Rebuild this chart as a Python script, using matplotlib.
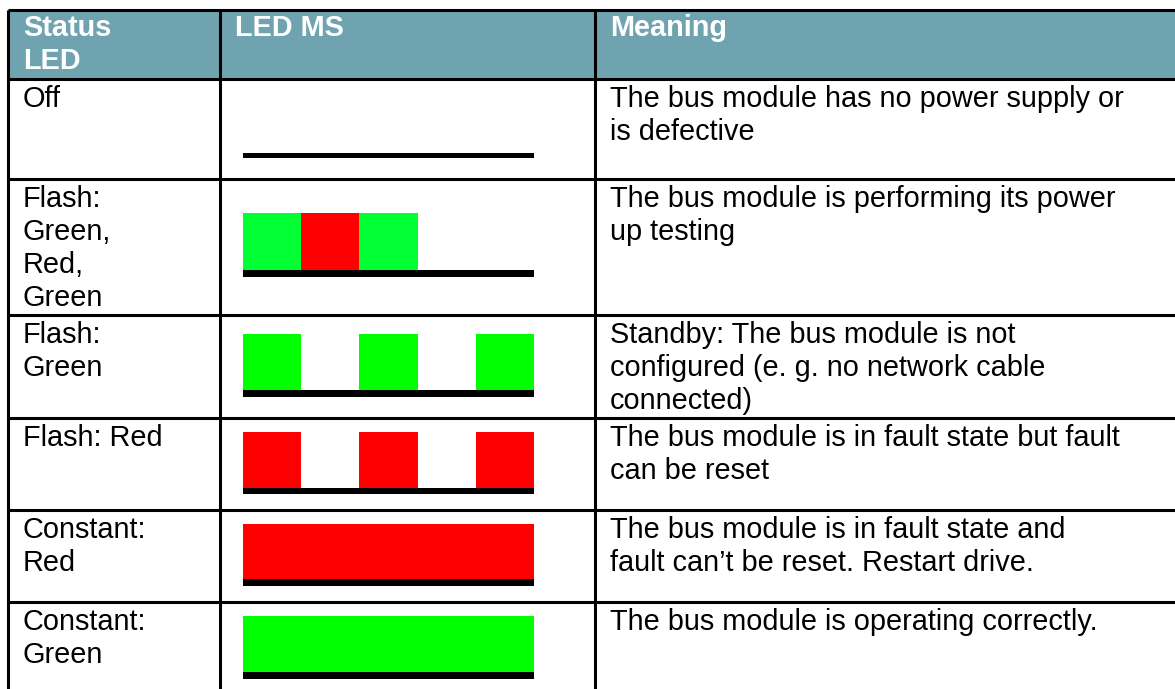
import matplotlib
matplotlib.use("Agg")
import matplotlib.pyplot as plt

# ---------------- data ----------------
headers = ["Status\nLED", "LED MS", "Meaning"]
status = ["Off", "Flash:\nGreen,\nRed,\nGreen", "Flash:\nGreen", "Flash: Red",
          "Constant:\nRed", "Constant:\nGreen"]
# LED pattern: 5 time slots, G = green, R = red, None = dark
led_patterns = [
    [None, None, None, None, None],
    ["G2", "R", "G2", None, None],
    ["G", None, "G", None, "G"],
    ["R", None, "R", None, "R"],
    ["R", "R", "R", "R", "R"],
    ["G", "G", "G", "G", "G"],
]
meaning = [
    "The bus module has no power supply or\nis defective",
    "The bus module is performing its power\nup testing",
    "Standby: The bus module is not\nconfigured (e. g. no network cable\nconnected)",
    "The bus module is in fault state but fault\ncan be reset",
    "The bus module is in fault state and\nfault can\u2019t be reset. Restart drive.",
    "The bus module is operating correctly.",
]

# ---------------- style / layout ----------------
W, H = 1175, 689
colors = {"G": "#00ff00", "G2": "#00ff33", "R": "#ff0000"}
header_color = "#70a3b0"
font = ["Liberation Sans", "DejaVu Sans"]
fs = 20.8
line_h = 33
lw = 2.2

x_left, x_c1, x_c2, x_right = 8, 220, 595, 1180
y_top = 10
row_edges = [79, 179, 315, 418, 510, 602, 700]
led_x0, led_x1 = 243, 534
led_top = [None, 213, 334, 432, 524, 616]
led_h = [0, 57, 56, 56, 55, 56]
bar_h = [5, 7, 7, 6, 7, 7]
line_y0 = [153, 270, 390, 488, 579, 672]

fig = plt.figure(figsize=(W / 100, H / 100), dpi=100)
ax = fig.add_axes([0, 0, 1, 1])
ax.set_xlim(0, W)
ax.set_ylim(H, 0)
ax.axis("off")

# header background
ax.add_patch(plt.Rectangle((x_left, y_top), x_right - x_left, row_edges[0] - y_top,
                           facecolor=header_color, edgecolor="none", zorder=0))

# grid lines
for y in [y_top] + row_edges[:-1]:
    ax.plot([x_left, x_right], [y, y], color="black", lw=lw, solid_capstyle="butt", zorder=3)
for x in [x_left, x_c1, x_c2]:
    ax.plot([x, x], [y_top, H + 5], color="black", lw=lw, solid_capstyle="butt", zorder=3)


def put_lines(x, y0, txt, **kw):
    for i, line in enumerate(txt.split("\n")):
        ax.text(x, y0 + i * line_h, line, fontsize=fs, family=font,
                va="baseline", ha="left", **kw)


# headers
hx = [23, 235, 610]
for x, t in zip(hx, headers):
    put_lines(x, 36, t, color="white", fontweight="bold")

# body rows
for i in range(len(status)):
    top = row_edges[i]
    put_lines(23, top + 28, status[i], color="black")
    put_lines(610, top + 28, meaning[i], color="black")

    # LED drawing as small axes in pixel box
    pat = led_patterns[i]
    y_start = led_top[i] if led_top[i] is not None else line_y0[i]
    y_end = line_y0[i] + bar_h[i]
    left = led_x0 / W
    bottom = 1 - y_end / H
    width = (led_x1 - led_x0) / W
    height = (y_end - y_start) / H
    iax = fig.add_axes([left, bottom, width, height])
    iax.set_xlim(0, len(pat))
    total = led_h[i] + bar_h[i]
    iax.set_ylim(0, total)
    iax.axis("off")
    for k, c in enumerate(pat):
        if c is not None:
            iax.bar(k, led_h[i], width=1, bottom=bar_h[i], align="edge",
                    color=colors[c], linewidth=0)
    iax.bar(0, bar_h[i], width=len(pat), bottom=0, align="edge", color="black", linewidth=0)

fig.savefig("out.png", dpi=100)
